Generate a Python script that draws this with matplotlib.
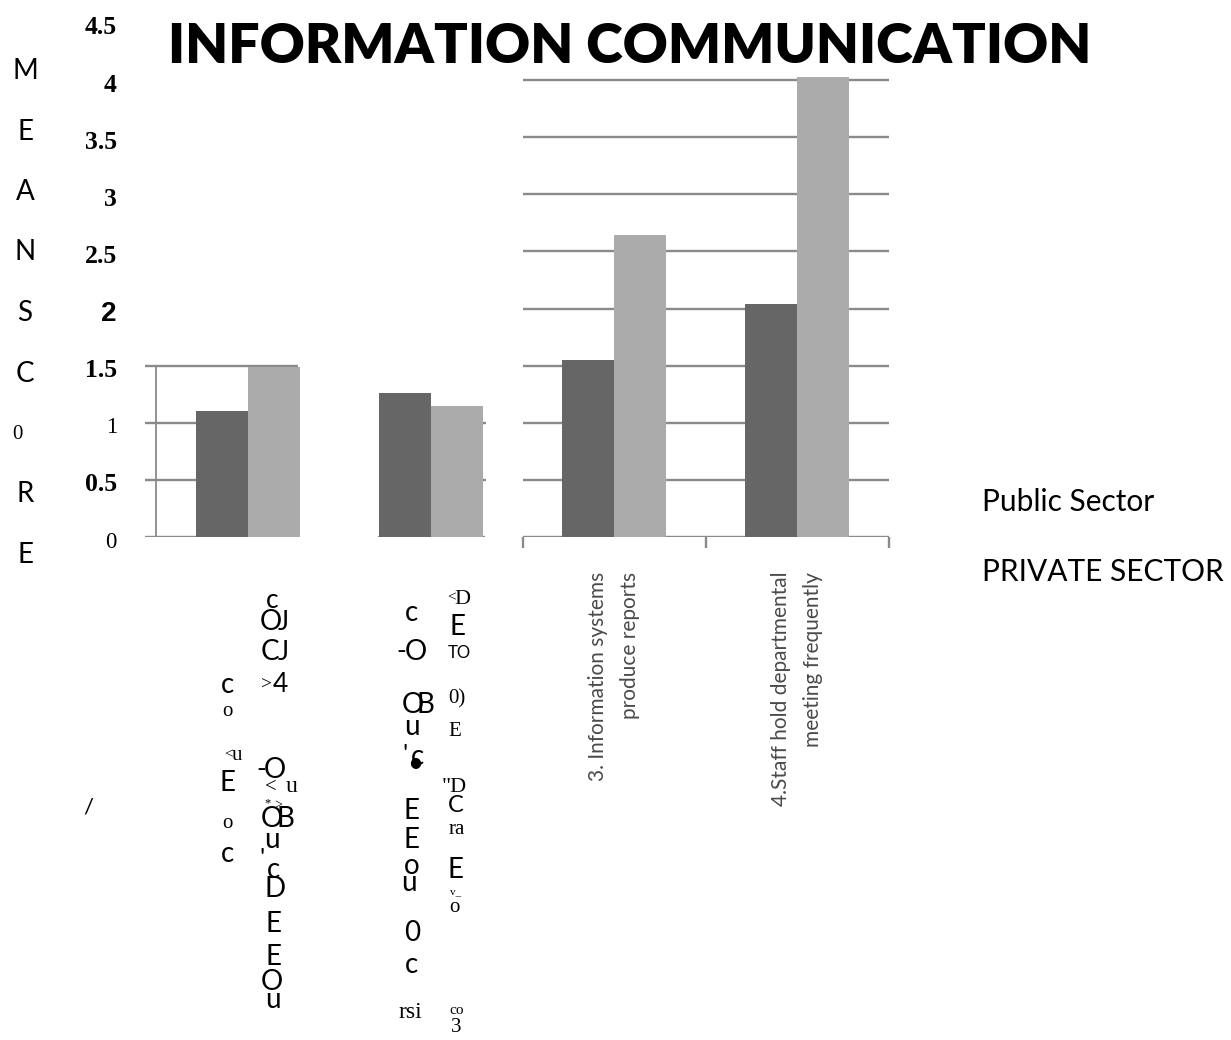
import matplotlib
matplotlib.use("Agg")
import matplotlib.pyplot as plt
import matplotlib.transforms as mtransforms

# mean scores per statement
categories = ["1", "2", "3. Information systems\nproduce reports",
              "4.Staff hold departmental\nmeeting frequently"]
public_sector = [1.10, 1.26, 1.55, 2.04]
private_sector = [1.49, 1.15, 2.64, 4.03]

y_values = [0, 0.5, 1, 1.5, 2, 2.5, 3, 3.5, 4, 4.5]
y_labels = ["0", "0.5", "1", "1.5", "2", "2.5", "3", "3.5", "4", "4.5"]
side_letters = ["M", "E", "A", "N", "S", "C", "0", "R", "E"]
legend_names = ["Public Sector", "PRIVATE SECTOR"]

W, H = 1231, 1040
fig = plt.figure(figsize=(W / 100, H / 100), dpi=100)


def fpos(x, y):
    return x / W, 1 - y / H


# axes box in pixels: x 145..890, y 537 (0) .. 23 (4.5)
ax = fig.add_axes([145 / W, 1 - 537 / H, (890 - 145) / W, (537 - 23) / H])
ax.set_facecolor("none")
for s in ax.spines.values():
    s.set_visible(False)
ax.set_ylim(0, 4.5)
ax.set_xlim(-0.563, 3.508)
ax.set_yticks([])

x = list(range(len(categories)))
w = 0.284
ax.bar([i - w / 2 for i in x], public_sector, w, color="#666666", zorder=3)
ax.bar([i + w / 2 for i in x], private_sector, w, color="#ababab", zorder=3)

grid_kw = dict(color="#8a8a8a", lw=1.7, zorder=1)
# first block: short grid with a left edge
ax.hlines([0, 0.5, 1, 1.5], -0.563, 0.273, **grid_kw)
ax.vlines(-0.503, 0, 1.5, color="#8a8a8a", lw=1.3, zorder=1)
# second block: baseline and small stubs
ax.hlines(0, 0.71, 1.295, **grid_kw)
ax.hlines([0.5, 1], 1.279, 1.301, **grid_kw)
# third block: full grid with category ticks
ax.hlines([0, 0.5, 1, 1.5, 2, 2.5, 3, 3.5, 4], 1.5, 3.5, **grid_kw)
ax.vlines([1.5, 2.5, 3.5], -0.1, 0, clip_on=False, **grid_kw)

ax.set_xticks(x, ["", "", categories[2], categories[3]])
ax.tick_params(axis="x", length=0, pad=25, labelsize=15,
               labelcolor="#4a4a4a", labelrotation=90)
for lab in ax.get_xticklabels():
    lab.set_family("Lato")
    lab.set_multialignment("right")
    lab.set_linespacing(1.75)

# y tick labels in mixed fonts
ytrans = ax.get_yaxis_transform() + mtransforms.ScaledTranslation(
    -0.28, -0.05, fig.dpi_scale_trans)
for v, lab in zip(y_values, y_labels):
    if lab == "2":
        kw = dict(family=["Liberation Sans Narrow", "Liberation Sans"],
                  weight="bold", size=20)
    elif lab in ("0", "1"):
        kw = dict(family="Liberation Serif", size=16.5)
    else:
        kw = dict(family="Liberation Serif", weight="bold", size=18.5)
    ax.text(0, v, lab, transform=ytrans, ha="right", va="center", **kw)

# vertical axis title, one letter per line
for k, ch in enumerate(side_letters):
    yy = 71 + k * 60.5
    if ch == "0":
        fig.text(*fpos(17, yy), ch, family="Liberation Serif", size=15,
                 ha="center", va="center")
    else:
        fig.text(*fpos(25, yy), ch, family="Lato", size=20,
                 ha="center", va="center")

# title fitted to its width
title = fig.text(*fpos(630, 63), "INFORMATION COMMUNICATION", family="Lato",
                 weight="heavy", size=50, ha="center", va="baseline")
r = fig.canvas.get_renderer()
tw = title.get_window_extent(r).width
title.set_size(50 * 924 / tw)

# legend entries
fig.text(*fpos(982, 502), legend_names[0], family="Lato", size=21.5,
         ha="left", va="center")
fig.text(*fpos(982, 572), legend_names[1], family="Lato", size=21.5,
         ha="left", va="center")

# scattered glyphs under the first two categories
S, R = "Lato", "Liberation Serif"
glyphs = [
    # first label, right column
    ("c", 272, 600, S, 19), ("O", 271, 622, S, 20), ("J", 283, 622, S, 19),
    ("C", 270, 652, S, 20), ("J", 283, 652, S, 19),
    (">", 267, 685, R, 14), ("4", 280, 685, S, 19),
    ("-", 261, 770, S, 19), ("O", 275, 770, S, 20),
    ("<", 271, 787, R, 15), ("u", 292, 787, R, 17),
    ("*", 268, 803, R, 9), (">", 278, 806, R, 10),
    ("O", 272, 819, S, 20), ("B", 285, 819, S, 20),
    ("u", 272, 840, S, 20), ("'", 262, 859, S, 18), ("c", 274, 870, S, 20),
    ("D", 275, 889, S, 20), ("E", 273, 924, S, 20), ("E", 273, 957, S, 20),
    ("O", 272, 982, S, 20), ("u", 273, 1000, S, 20),
    # first label, left column
    ("c", 227, 685, S, 20), ("o", 227, 711, R, 15),
    ("<", 229, 755, R, 11), ("u", 237, 755, R, 15),
    ("E", 228, 783, S, 20), ("o", 227, 823, R, 15), ("c", 228, 854, S, 20),
    # second label, left column
    ("c", 412, 613, S, 20), ("-", 401, 652, S, 19), ("O", 416, 652, S, 20),
    ("O", 413, 705, S, 20), ("B", 425, 705, S, 20), ("u", 412, 727, S, 20),
    ("'", 405, 754, S, 18), ("c", 417, 757, S, 20), ("•", 415, 764, S, 20),
    ("E", 412, 811, S, 20), ("E", 412, 840, S, 20), ("o", 412, 866, S, 20),
    ("u", 409, 883, S, 20), ("0", 412, 933, S, 20), ("c", 411, 965, S, 20),
    ("rsi", 410, 1013, R, 17),
    # second label, right column
    ("<", 452, 598, R, 11), ("D", 462, 600, R, 16), ("E", 457, 627, S, 20),
    ("TO", 459, 653, S, 12), ("0)", 457, 699, R, 15), ("E", 455, 732, R, 15),
    ('"D', 454, 788, R, 16), ("C", 456, 805, S, 17), ("ra", 457, 830, R, 15),
    ("E", 456, 870, S, 20), ("v_", 456, 892, R, 8), ("o", 454, 908, R, 15),
    ("co", 457, 1010, R, 11), ("3", 456, 1028, R, 15),
    ("/", 88, 808, S, 16),
]
for ch, gx, gy, fam, sz in glyphs:
    fig.text(*fpos(gx, gy), ch, family=fam, size=sz, ha="center", va="center")

fig.savefig("out.png", dpi=100, facecolor="white")
